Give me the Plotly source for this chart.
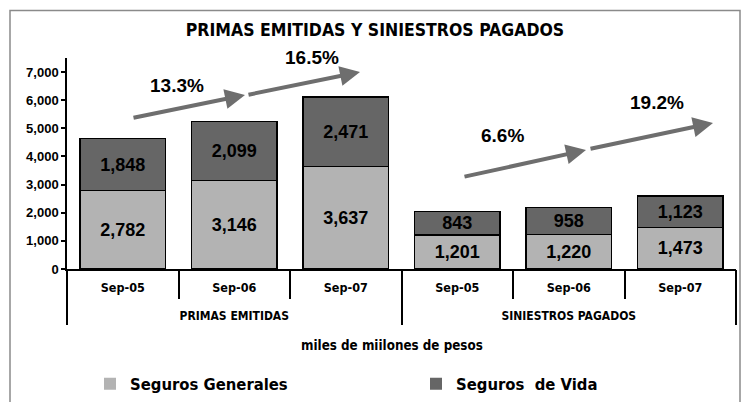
import plotly.graph_objects as go

groups = ["PRIMAS EMITIDAS", "SINIESTROS PAGADOS"]
periods = ["Sep-05", "Sep-06", "Sep-07", "Sep-05", "Sep-06", "Sep-07"]
generales = [2782, 3146, 3637, 1201, 1220, 1473]
vida = [1848, 2099, 2471, 843, 958, 1123]
growth_labels = ["13.3%", "16.5%", "6.6%", "19.2%"]
y_ticks = [0, 1000, 2000, 3000, 4000, 5000, 6000, 7000]

NARROW = "Liberation Sans Narrow, Arial Narrow, DejaVu Sans Condensed, sans-serif"
ARIAL = "Liberation Sans, Arial, sans-serif"
LIGHT = "#b3b3b3"
DARK = "#666666"

n = len(periods)
xpos = list(range(n))
per_group = n // len(groups)
group_centers = [g * per_group + (per_group - 1) / 2 for g in range(len(groups))]
inner_bounds = [i + 0.5 for i in range(n - 1) if (i + 1) % per_group != 0]
group_bounds = [g * per_group - 0.5 for g in range(len(groups) + 1)]

fig = go.Figure()
for name, vals, col in [("Seguros Generales", generales, LIGHT), ("Seguros  de Vida", vida, DARK)]:
    fig.add_trace(go.Bar(
        x=xpos, y=vals, name=name, showlegend=False,
        marker=dict(color=col, line=dict(color="black", width=1.5)),
        text=vals, texttemplate="%{y:,}", textposition="inside",
        insidetextanchor="middle", textangle=0, constraintext="none",
        textfont=dict(family=ARIAL, size=18, color="black", weight="bold"),
    ))
for name, col in [("Seguros Generales", LIGHT), ("Seguros  de Vida", DARK)]:
    fig.add_trace(go.Bar(
        x=xpos, y=[0] * n, name=name, showlegend=True,
        marker=dict(color=col, line=dict(width=0)), hoverinfo="skip",
    ))

# page has an 8px body margin: work in screen pixels, convert to figure
OFF = 8
W, H = 733, 394
L, R, T, B = 59, 5, 50, 133
pw, ph = W - L - R, H - T - B


def px(xs):
    return (xs - OFF - L) / pw


def py(ys):
    return (H - B - (ys - OFF)) / ph


xrange_ = [-0.5, n - 0.5]
fig.update_layout(
    width=W, height=H,
    margin=dict(l=L, r=R, t=T, b=B, autoexpand=False),
    paper_bgcolor="white", plot_bgcolor="white",
    barmode="stack", bargap=0.23,
    title=dict(text="PRIMAS EMITIDAS Y SINIESTROS PAGADOS", x=px(375), xref="paper",
               xanchor="center", y=1 - (30 - OFF) / H, yanchor="middle",
               font=dict(family=NARROW, size=17.5, color="black", weight="bold")),
    xaxis=dict(
        range=xrange_, tickvals=xpos, ticktext=periods, ticks="",
        showline=True, linecolor="black", linewidth=1.5,
        minor=dict(tickmode="array", tickvals=inner_bounds, ticks="outside",
                   ticklen=28, tickwidth=1.5, tickcolor="black", showgrid=False),
        ticklabelstandoff=6, automargin=False,
        tickfont=dict(family=NARROW, size=12.5, color="black", weight="bold"),
        showgrid=False, zeroline=False,
    ),
    xaxis2=dict(
        range=xrange_, overlaying="x", anchor="y", side="bottom",
        tickvals=group_centers, ticktext=groups, ticks="",
        minor=dict(tickmode="array", tickvals=group_bounds, ticks="outside",
                   ticklen=55, tickwidth=1.5, tickcolor="black", showgrid=False),
        ticklabelstandoff=38, automargin=False, showline=False,
        tickfont=dict(family=NARROW, size=12, color="black", weight="bold"),
        showgrid=False, zeroline=False,
    ),
    yaxis=dict(
        range=[0, 7500], tickvals=y_ticks, tickformat=",", automargin=False,
        showline=True, linecolor="black", linewidth=1.5,
        ticks="outside", ticklen=4, tickwidth=1.5, tickcolor="black",
        tickfont=dict(family=ARIAL, size=13, color="black", weight="bold"),
        showgrid=False, zeroline=False,
    ),
    legend=dict(
        orientation="h", x=px(90), xanchor="left", y=py(384), yanchor="middle",
        entrywidth=281, entrywidthmode="pixels", traceorder="normal",
        font=dict(family=NARROW, size=16.5, color="black", weight="bold"),
        bgcolor="rgba(0,0,0,0)",
    ),
)
# invisible trace to activate the second x axis
fig.add_trace(go.Scatter(x=[xpos[0]], y=[0], xaxis="x2", mode="markers",
                         marker=dict(opacity=0), showlegend=False, hoverinfo="skip"))

# axis caption
fig.add_annotation(text="miles de miilones de pesos", xref="paper", yref="paper",
                   x=px(392), y=py(345), xanchor="center", yanchor="middle",
                   showarrow=False,
                   font=dict(family=NARROW, size=13.3, color="black", weight="bold"))

# growth labels
label_pos = [(177, 85), (312, 57), (503, 135), (657, 102)]
for t, (lx, ly) in zip(growth_labels, label_pos):
    fig.add_annotation(text=t, xref="paper", yref="paper", x=px(lx), y=py(ly),
                       xanchor="center", yanchor="middle", showarrow=False,
                       font=dict(family=ARIAL, size=19, color="black", weight="bold"))

# growth arrows (tip, tail)
arrows = [((245, 95), (132, 118)), ((360, 72), (247, 95)),
          ((586, 150), (463, 177)), ((713, 123), (589, 149))]
for (tx, ty), (sx, sy) in arrows:
    fig.add_annotation(text="", xref="paper", yref="paper", x=px(tx), y=py(ty),
                       axref="pixel", ayref="pixel", ax=sx - tx, ay=sy - ty,
                       showarrow=True, arrowhead=2, arrowsize=1, arrowwidth=4,
                       arrowcolor="#6e6e6e", standoff=0)

# outer frame
fig.add_shape(type="rect", xref="paper", yref="paper",
              x0=px(10), x1=px(740), y0=py(420), y1=py(10.5),
              line=dict(color="#8a8a8a", width=1.5), fillcolor="rgba(0,0,0,0)")

fig.write_html("out.html")
